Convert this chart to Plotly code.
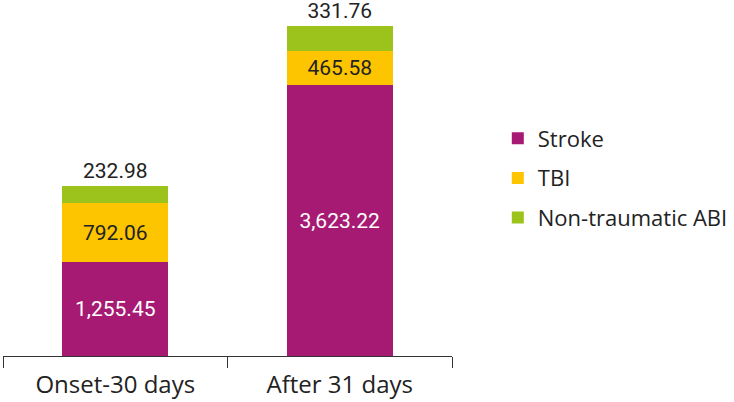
import plotly.graph_objects as go

# Data
categories = ["Onset-30 days", "After 31 days"]
stroke = [1255.45, 3623.22]
tbi = [792.06, 465.58]
non_traumatic = [232.98, 331.76]

series = [
    ("Stroke", stroke, "#A71A73", "white"),
    ("TBI", tbi, "#FDC500", "#222222"),
    ("Non-traumatic ABI", non_traumatic, "#9CC31B", "#222222"),
]

fig = go.Figure()
for i, (name, vals, color, tcolor) in enumerate(series):
    fig.add_trace(go.Bar(
        x=categories, y=vals, name=name,
        marker=dict(color=color, line=dict(width=0)),
        text=[f"{v:,.2f}" for v in vals],
        textposition="outside" if i == 2 else "inside",
        insidetextanchor="middle",
        textfont=dict(color=tcolor, size=21, family="Roboto, sans-serif"),
        outsidetextfont=dict(color="#222222", size=21, family="Roboto, sans-serif"),
        cliponaxis=False,
        legendgroup=name,
    ))

fig.update_layout(
    width=734, height=402,
    barmode="stack",
    bargap=0.53,
    margin=dict(l=3, r=282, t=0, b=46, autoexpand=False),
    paper_bgcolor="white",
    plot_bgcolor="white",
    font=dict(family="Open Sans, sans-serif", size=22, color="#222222"),
    uniformtext=dict(mode=False),
    showlegend=True,
    legend=dict(
        x=1.102, xanchor="left", y=0.5, yanchor="middle",
        traceorder="grouped", tracegroupgap=8,
        font=dict(size=22, color="#222222"),
        itemwidth=30,
    ),
    xaxis=dict(
        range=[-0.5, 1.5], automargin=False,
        showline=True, linecolor="#333333", linewidth=1,
        ticks="outside", tickson="boundaries", ticklen=11, tickcolor="#333333",
        ticklabelstandoff=7,
        tickfont=dict(size=24, color="#222222"),
        showgrid=False,
    ),
    yaxis=dict(
        range=[0, 4765], visible=False, showgrid=False,
    ),
)

# drop the default page margin so the figure sits at the window corner
fig.write_html("out.html", config={"displayModeBar": False},
               post_script="document.body.style.margin='0';")
